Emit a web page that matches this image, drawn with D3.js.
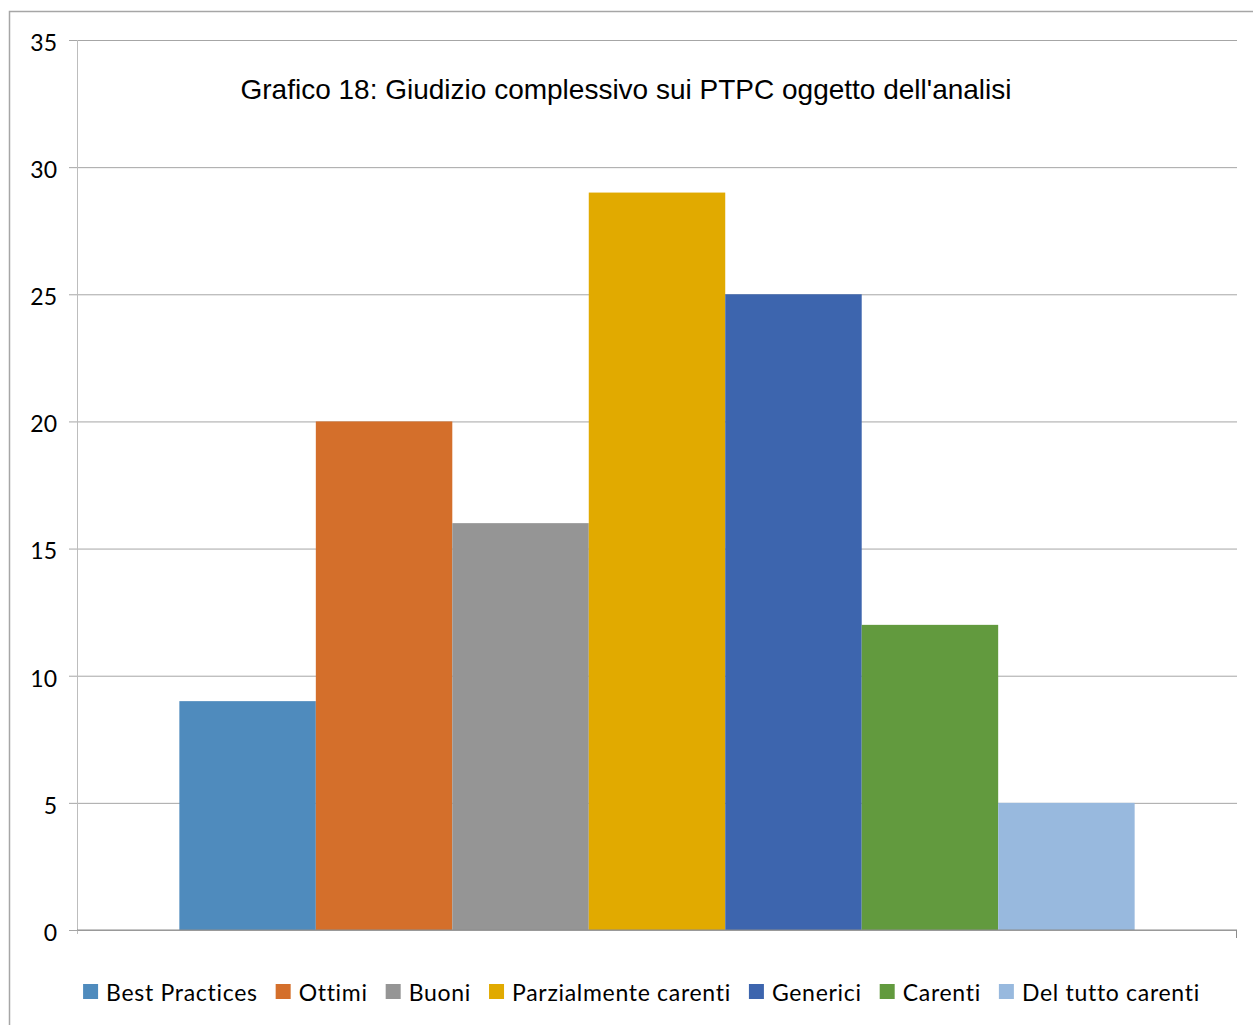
<!DOCTYPE html>
<html>
<head>
<meta charset="utf-8">
<script src="https://cdn.jsdelivr.net/npm/d3@7"></script>
<style>
  body { margin: 0; background: #fff; }
  .tick text { font-family: Lato, "Open Sans", sans-serif; }
</style>
</head>
<body>
<div id="chart"></div>
<script>
var categories = [""];
var seriesNames = ["Best Practices", "Ottimi", "Buoni", "Parzialmente carenti", "Generici", "Carenti", "Del tutto carenti"];
var seriesValues = [9, 20, 16, 29, 25, 12, 5];
var seriesColors = ["#4f8bbd", "#d46f2b", "#959595", "#e1aa00", "#3d65ae", "#629a3e", "#98b9de"];
var yTicks = [0, 5, 10, 15, 20, 25, 30, 35];
var title = "Grafico 18: Giudizio complessivo sui PTPC oggetto dell'analisi";

var W = 1253, H = 1025;
var margin = {top: 40, right: 16, bottom: 95, left: 77};
var width = W - margin.left - margin.right,
    height = H - margin.top - margin.bottom;

var svg = d3.select("#chart").append("svg")
  .attr("width", W)
  .attr("height", H);

// chart area frame
svg.append("rect")
  .attr("x", 9.5).attr("y", 11.5)
  .attr("width", 1260).attr("height", 1030)
  .attr("fill", "none")
  .attr("stroke", "#a6a6a6")
  .attr("stroke-width", 1.5);

var g = svg.append("g")
  .attr("transform", "translate(" + margin.left + "," + margin.top + ")");

var x0 = d3.scaleBand()
  .domain(categories)
  .range([0, width])
  .padding(0);

var x1 = d3.scaleBand()
  .domain(seriesNames)
  .range([0, x0.bandwidth()])
  .paddingInner(0)
  .paddingOuter(0.75);

var y = d3.scaleLinear()
  .domain([0, 35])
  .range([height, 0]);

var color = d3.scaleOrdinal()
  .domain(seriesNames)
  .range(seriesColors);

// gridlines + y labels
var yAxis = g.append("g")
  .attr("class", "axis")
  .call(d3.axisLeft(y).tickValues(yTicks).tickSize(-width).tickPadding(20).tickSizeOuter(0));
yAxis.select(".domain").remove();
yAxis.selectAll(".tick line")
  .attr("x1", -8)
  .attr("stroke", "#a6a6a6");
yAxis.selectAll(".tick text")
  .attr("font-size", 23)
  .attr("dy", "0.45em")
  .attr("fill", "#000");

// vertical axis line
g.append("line")
  .attr("x1", 0.5).attr("x2", 0.5)
  .attr("y1", y(35)).attr("y2", y(0) + 4)
  .attr("stroke", "#bdbdbd");

// bars
g.selectAll(".bar")
  .data(seriesNames.map(function(s, i) { return {name: s, value: seriesValues[i]}; }))
  .enter()
  .append("rect")
  .attr("class", "bar")
  .attr("x", function(d) { return x0(categories[0]) + x1(d.name); })
  .attr("y", function(d) { return y(d.value); })
  .attr("width", x1.bandwidth())
  .attr("height", function(d) { return y(0) - y(d.value); })
  .attr("fill", function(d) { return color(d.name); });

// x axis
var xAxis = g.append("g")
  .attr("transform", "translate(0," + height + ")");
xAxis.append("line")
  .attr("x1", 0).attr("x2", width)
  .attr("stroke", "#8c8c8c");
xAxis.append("line")
  .attr("x1", width - 0.5).attr("x2", width - 0.5)
  .attr("y1", 0).attr("y2", 8)
  .attr("stroke", "#8c8c8c");

// title
svg.append("text")
  .attr("x", 626)
  .attr("y", 99)
  .attr("text-anchor", "middle")
  .attr("font-family", "'Liberation Sans', Arial, sans-serif")
  .attr("font-size", 28)
  .attr("fill", "#000")
  .text(title);

// legend
var legend = svg.append("g").attr("class", "legend");
var items = legend.selectAll(".item")
  .data(seriesNames)
  .enter()
  .append("g")
  .attr("class", "item");
items.append("rect")
  .attr("width", 15).attr("height", 15)
  .attr("y", -16)
  .attr("fill", function(d) { return color(d); });
items.append("text")
  .attr("x", 23)
  .attr("y", 1)
  .attr("font-family", "Lato, 'Open Sans', sans-serif")
  .attr("font-size", 23)
  .attr("letter-spacing", 0.7)
  .attr("fill", "#000")
  .text(function(d) { return d; });

var pos = 0;
items.each(function() {
  var it = d3.select(this);
  it.attr("transform", "translate(" + pos + ",0)");
  pos += 23 + it.select("text").node().getComputedTextLength() + 18;
});
var total = pos - 18;
legend.attr("transform", "translate(" + (641.5 - total / 2) + ",1000)");
</script>
</body>
</html>
